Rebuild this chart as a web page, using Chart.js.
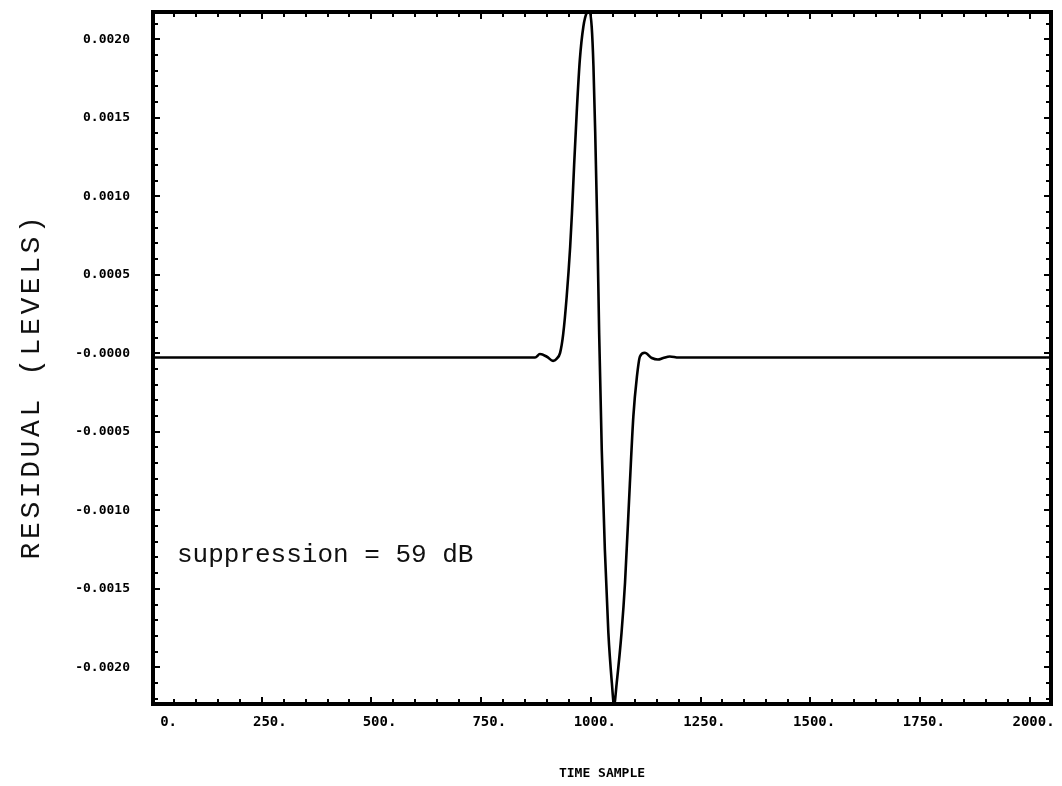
<!DOCTYPE html>
<html>
<head>
<meta charset="utf-8">
<script src="https://cdn.jsdelivr.net/npm/chart.js@4/dist/chart.umd.min.js"></script>
<style>
  html, body { margin: 0; padding: 0; background: #ffffff; }
  canvas { display: block; }
</style>
</head>
<body>
<canvas id="c" width="1062" height="786"></canvas>
<script>
// ---- data ----
const sampleIndex = [0, 500, 873, 884, 900, 914, 922, 930, 937, 945, 953, 957, 962, 968, 975, 983, 991, 997,
  1002, 1006, 1010, 1015, 1019, 1025, 1032, 1040, 1048, 1053, 1059, 1070, 1078, 1089, 1097, 1105, 1112,
  1123, 1139, 1153, 1165, 1180, 1200, 1500, 2047];
const residual = [-0.000027, -0.000027, -0.000027, -0.000005, -0.000022, -0.000048, -0.000035, 0.000003, 0.00012, 0.00036, 0.00068, 0.00089, 0.00120, 0.00154, 0.00187, 0.00208, 0.00217, 0.00218,
  0.00208, 0.00183, 0.00141, 0.00077, 0.00013, -0.00062, -0.00125, -0.00178, -0.00210, -0.00224, -0.00210, -0.00178, -0.00146, -0.00083, -0.00040, -0.00015, -0.00002,
  0.000003, -0.00003, -0.00004, -0.00003, -0.00002, -0.000027, -0.000027, -0.000027];

const xTickValues = [0, 250, 500, 750, 1000, 1250, 1500, 1750, 2000];
const xTickLabels = ["0.", "250.", "500.", "750.", "1000.", "1250.", "1500.", "1750.", "2000."];
const yTickValues = [0.0020, 0.0015, 0.0010, 0.0005, 0, -0.0005, -0.0010, -0.0015, -0.0020];
const yTickLabels = ["0.0020", "0.0015", "0.0010", "0.0005", "-0.0000", "-0.0005", "-0.0010", "-0.0015", "-0.0020"];
const xMinorStep = 50;
const yMinorStep = 0.0001;
const xTitle = "TIME SAMPLE";
const yTitle = "RESIDUAL (LEVELS)";
const noteText = "suppression = 59 dB";

const points = sampleIndex.map((x, i) => ({ x: x, y: residual[i] }));

const framePlugin = {
  id: 'frameTicks',
  afterDatasetsDraw(chart) {
    const { ctx, chartArea: a, scales } = chart;
    const xs = scales.x, ys = scales.y;
    ctx.save();
    ctx.strokeStyle = '#000';
    ctx.lineWidth = 2;
    ctx.beginPath();
    for (let i = 0; i * xMinorStep <= xs.max + 1e-9; i++) {
      const v = i * xMinorStep;
      const px = Math.round(xs.getPixelForValue(v));
      const major = xTickValues.includes(v);
      const len = major ? 8 : 6;
      ctx.moveTo(px, a.bottom); ctx.lineTo(px, a.bottom - len);
      ctx.moveTo(px, a.top); ctx.lineTo(px, a.top + len);
    }
    const nLo = Math.ceil(ys.min / yMinorStep - 1e-6), nHi = Math.floor(ys.max / yMinorStep + 1e-6);
    for (let n = nLo; n <= nHi; n++) {
      const v = n * yMinorStep;
      const py = Math.round(ys.getPixelForValue(v));
      const major = (n % 5 === 0);
      const len = major ? 8 : 6;
      ctx.moveTo(a.left, py); ctx.lineTo(a.left + len, py);
      ctx.moveTo(a.right, py); ctx.lineTo(a.right - len, py);
    }
    ctx.stroke();
    ctx.lineWidth = 4;
    ctx.strokeRect(a.left + 1, a.top + 1, a.right - a.left - 2, a.bottom - a.top - 2);

    ctx.fillStyle = '#111';
    ctx.font = '28px "Liberation Mono", monospace';
    ctx.letterSpacing = '3.6px';
    ctx.textAlign = 'center';
    ctx.textBaseline = 'middle';
    ctx.translate(32, 386);
    ctx.rotate(-Math.PI / 2);
    ctx.fillText(yTitle, 0, 0);
    ctx.restore();

    ctx.save();
    ctx.fillStyle = '#111';
    ctx.font = '26px "Liberation Mono", monospace';
    ctx.textAlign = 'left';
    ctx.textBaseline = 'alphabetic';
    ctx.fillText(noteText, 177, 562);
    ctx.restore();
  }
};

function zeroPad(scale) {
  scale.paddingTop = 0; scale.paddingBottom = 0; scale.paddingLeft = 0; scale.paddingRight = 0;
}

new Chart(document.getElementById('c'), {
  type: 'line',
  data: {
    datasets: [{
      data: points,
      borderColor: '#000',
      borderWidth: 2.6,
      pointRadius: 0,
      fill: false,
      cubicInterpolationMode: 'monotone'
    }]
  },
  options: {
    responsive: false,
    animation: false,
    devicePixelRatio: 1,
    layout: { padding: { left: 0, right: 10, top: 11, bottom: 0 } },
    plugins: { legend: { display: false }, tooltip: { enabled: false } },
    scales: {
      x: {
        type: 'linear',
        min: 0,
        max: 2051,
        grid: { display: false, drawTicks: false },
        border: { display: false },
        afterBuildTicks: (axis) => { axis.ticks = xTickValues.map(v => ({ value: v })); },
        afterFit: (scale) => { scale.height = 81; zeroPad(scale); },
        ticks: {
          autoSkip: false,
          maxRotation: 0,
          align: 'end',
          labelOffset: 25,
          padding: 9,
          color: '#000',
          font: { family: '"DejaVu Sans Mono", monospace', size: 14, weight: 'bold' },
          callback: (v, i) => xTickLabels[i]
        },
        title: {
          display: true,
          text: xTitle,
          color: '#000',
          font: { family: '"DejaVu Sans Mono", monospace', size: 13, weight: 'bold' },
          padding: { top: 0, bottom: 5 }
        }
      },
      y: {
        type: 'linear',
        min: -0.00224,
        max: 0.00218,
        grid: { display: false, drawTicks: false },
        border: { display: false },
        afterBuildTicks: (axis) => { axis.ticks = yTickValues.map(v => ({ value: v })); },
        afterFit: (scale) => { scale.width = 152; zeroPad(scale); },
        ticks: {
          autoSkip: false,
          padding: 22,
          color: '#000',
          font: { family: '"DejaVu Sans Mono", monospace', size: 13, weight: 'bold' },
          callback: (v, i) => yTickLabels[i]
        }
      }
    }
  },
  plugins: [framePlugin]
});
</script>
</body>
</html>
